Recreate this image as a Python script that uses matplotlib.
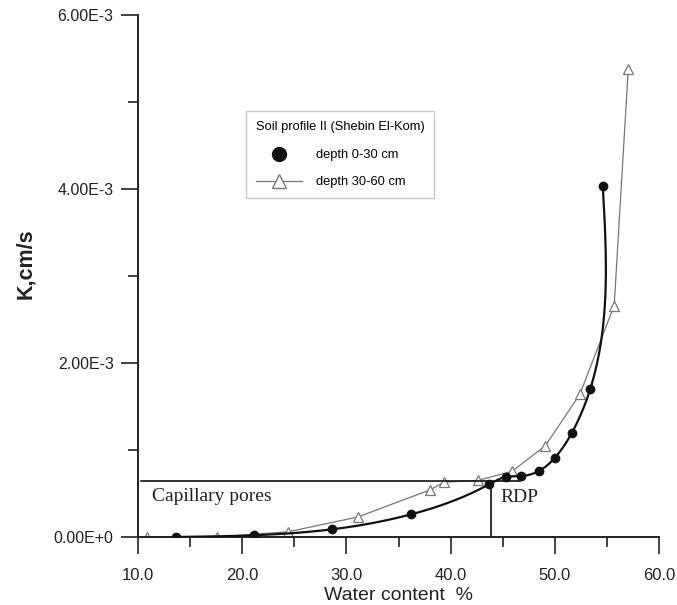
import numpy as np
import matplotlib.pyplot as plt
from matplotlib.lines import Line2D

# depth 0-30 cm (filled circles, smooth curve)
wc_top = [13.6, 21.1, 28.6, 36.2, 43.7, 45.3, 46.8, 48.5, 50.0, 51.65, 53.4, 54.6]
k_top = [0.0, 0.00002, 0.000088, 0.00026, 0.000606, 0.00069, 0.0007, 0.00076, 0.00091, 0.0012, 0.0017, 0.00404]

# depth 30-60 cm (open triangles, straight segments)
wc_sub = [10.9, 17.6, 24.4, 31.1, 38.0, 39.4, 42.6, 45.9, 49.1, 52.4, 55.7, 57.05]
k_sub = [0.0, 0.0, 0.00006, 0.00023, 0.00054, 0.00063, 0.00065, 0.000755, 0.00105, 0.00164, 0.00266, 0.00538]

# RDP guide lines
rdp_x = 43.85
rdp_k = 0.00060
cap_k = 0.000647
cap_x0, cap_x1 = 10.25, 46.7


def natural_spline(t, v, tt):
    # natural cubic spline through (t, v), evaluated at tt
    n = len(t)
    h = np.diff(t)
    A = np.zeros((n, n))
    r = np.zeros(n)
    A[0, 0] = A[-1, -1] = 1
    for i in range(1, n - 1):
        A[i, i - 1] = h[i - 1]
        A[i, i] = 2 * (h[i - 1] + h[i])
        A[i, i + 1] = h[i]
        r[i] = 6 * ((v[i + 1] - v[i]) / h[i] - (v[i] - v[i - 1]) / h[i - 1])
    M = np.linalg.solve(A, r)
    idx = np.clip(np.searchsorted(t, tt) - 1, 0, n - 2)
    a, b = t[idx], t[idx + 1]
    hh = b - a
    wa = (b - tt) / hh
    wb = (tt - a) / hh
    return (wa * v[idx] + wb * v[idx + 1]
            + ((wa ** 3 - wa) * M[idx] + (wb ** 3 - wb) * M[idx + 1]) * hh ** 2 / 6)


def smooth_curve(x, y, xr, yr, n=600):
    # parametric spline in normalised axis space, chord-length parameter
    px = (np.asarray(x) - xr[0]) / (xr[1] - xr[0])
    py = (np.asarray(y) - yr[0]) / (yr[1] - yr[0])
    d = np.hypot(np.diff(px), np.diff(py))
    t = np.concatenate([[0], np.cumsum(d)])
    tt = np.linspace(0, t[-1], n)
    sx = natural_spline(t, px, tt)
    sy = natural_spline(t, py, tt)
    return sx * (xr[1] - xr[0]) + xr[0], sy * (yr[1] - yr[0]) + yr[0]


plt.rcParams['font.family'] = ['Liberation Sans', 'DejaVu Sans']

fig = plt.figure(figsize=(6.77, 6.05), dpi=100)
ax = fig.add_axes([138 / 677, 1 - 537 / 605, 521 / 677, 522 / 605])

xr = (10, 60)
yr = (0, 0.006)

sx, sy = smooth_curve(wc_top, k_top, xr, yr)
sy = np.clip(sy, 0, None)
ax.plot(sx, sy, color='#111111', lw=1.6, zorder=3)
ax.plot(wc_top, k_top, 'o', color='#111111', ms=6, zorder=4)

ax.plot(wc_sub, k_sub, '-^', color='#777777', lw=0.9, ms=7,
        markerfacecolor='white', markeredgecolor='#777777', markeredgewidth=0.9, zorder=2)

ax.plot([cap_x0, cap_x1], [cap_k, cap_k], color='#111111', lw=1.2, zorder=2)
ax.plot([rdp_x, rdp_x], [0, rdp_k], color='#111111', lw=1.2, zorder=2)

ax.text(11.3, 0.00046, 'Capillary pores', family='Liberation Serif', fontsize=14,
        va='center', ha='left', color='#222222')
ax.text(44.8, 0.00045, 'RDP', family='Liberation Serif', fontsize=14,
        va='center', ha='left', color='#222222')

ax.set_xlim(*xr)
ax.set_ylim(*yr)
ax.set_xticks(np.arange(10, 61, 10))
ax.set_xticks(np.arange(15, 60, 10), minor=True)
ax.set_yticks(np.arange(0, 0.0061, 0.002))
ax.set_yticks([0.001, 0.003, 0.005], minor=True)
ax.set_xticklabels([f'{v:.1f}' for v in np.arange(10, 61, 10)])
ax.set_yticklabels(['0.00E+0', '2.00E-3', '4.00E-3', '6.00E-3'])

for s in ['top', 'right']:
    ax.spines[s].set_visible(False)
for s in ['left', 'bottom']:
    ax.spines[s].set_linewidth(1.4)
    ax.spines[s].set_color('#222222')

ax.tick_params(which='major', length=12.5, width=1.2, color='#222222',
               labelsize=11.5, labelcolor='#222222', pad=5)
ax.tick_params(which='minor', length=7, width=1.2, color='#222222')
ax.tick_params(axis='x', which='major', pad=9.5, labelsize=12)

ax.set_xlabel('Water content  %', fontsize=14, color='#222222', labelpad=3)
fig.text(26 / 677, 1 - 264 / 605, 'K,cm/s', rotation=90, fontsize=15.5,
         fontweight='bold', color='#222222', ha='center', va='center')

handles = [
    Line2D([], [], marker='o', color='#111111', ls='none', ms=10),
    Line2D([], [], marker='^', color='#777777', lw=0.9, ms=10,
           markerfacecolor='white', markeredgecolor='#777777'),
]
leg = ax.legend(handles, ['depth 0-30 cm', 'depth 30-60 cm'],
                title='Soil profile II (Shebin El-Kom)',
                loc='upper left', bbox_to_anchor=(246 / 677, 1 - 111 / 605),
                bbox_transform=fig.transFigure, alignment='left',
                fontsize=9.3, title_fontsize=9.3, frameon=True, fancybox=False,
                edgecolor='#bbbbbb', handlelength=3.6, handletextpad=1.1,
                borderpad=0.75, labelspacing=1.15, borderaxespad=0)
leg.get_frame().set_linewidth(1.0)
leg._legend_box.sep = 12

fig.savefig('out.png', dpi=100)
